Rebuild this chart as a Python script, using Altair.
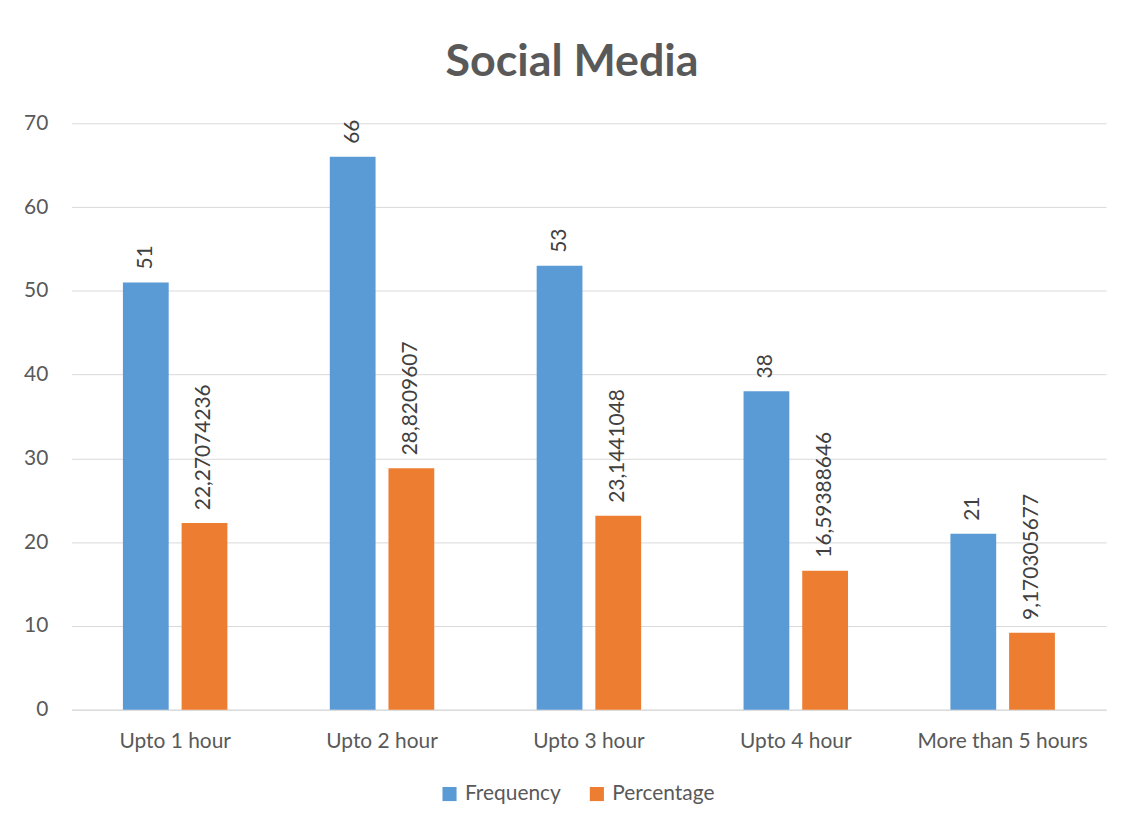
import altair as alt
import pandas as pd

categories = ["Upto 1 hour", "Upto 2 hour", "Upto 3 hour", "Upto 4 hour", "More than 5 hours"]
frequency = [51, 66, 53, 38, 21]
percentage = [22.27074236, 28.8209607, 23.1441048, 16.59388646, 9.170305677]
freq_labels = ["51", "66", "53", "38", "21"]
pct_labels = ["22,27074236", "28,8209607", "23,1441048", "16,59388646", "9,170305677"]
series = ["Frequency", "Percentage"]
colors = ["#5B9BD5", "#ED7D31"]

rows = []
for c, f, fl in zip(categories, frequency, freq_labels):
    rows.append({"cat": c, "series": "Frequency", "value": f, "label": fl})
for c, p, pl in zip(categories, percentage, pct_labels):
    rows.append({"cat": c, "series": "Percentage", "value": p, "label": pl})
df = pd.DataFrame(rows)

FONT = "Lato"
GRAY = "#595959"

base = alt.Chart(df).encode(
    x=alt.X("cat:N", sort=categories, title=None,
            scale=alt.Scale(paddingInner=0.495, paddingOuter=0.2475),
            axis=alt.Axis(labelAngle=0, labelFontSize=21, labelColor=GRAY, labelFont=FONT,
                          ticks=False, domain=True, domainColor="#d9d9d9", labelPadding=21)),
    xOffset=alt.XOffset("series:N", sort=series,
                        scale=alt.Scale(paddingInner=0.22, paddingOuter=0)),
    y=alt.Y("value:Q", title=None,
            scale=alt.Scale(domain=[0, 70]),
            axis=alt.Axis(values=[0, 10, 20, 30, 40, 50, 60, 70], labelFontSize=21, labelColor=GRAY,
                          labelFont=FONT, ticks=False, domain=False, gridColor="#d9d9d9",
                          labelPadding=24)),
)

bars = base.mark_bar().encode(
    color=alt.Color("series:N", sort=series, scale=alt.Scale(domain=series, range=colors),
                    legend=alt.Legend(title=None, orient="none", legendX=369, legendY=663,
                                      direction="horizontal",
                                      symbolType="square", symbolSize=200, labelFontSize=21,
                                      labelFont=FONT, labelColor=GRAY, symbolStrokeWidth=0,
                                      columnPadding=25, labelOffset=5))
)

labels = base.mark_text(angle=270, align="left", baseline="middle", dx=13,
                        fontSize=21, font=FONT, color="#404040").encode(text="label:N")

chart = (bars + labels).properties(
    width=1039, height=589,
    title=alt.Title("Social Media", fontSize=45, font=FONT, fontWeight="bold", color=GRAY,
                    anchor="middle", offset=28, dx=-17),
    padding={"left": 15, "top": 30, "right": 20, "bottom": 10},
).configure_view(stroke=None)

chart.save("out.html", embed_options={"renderer": "svg", "actions": False})
